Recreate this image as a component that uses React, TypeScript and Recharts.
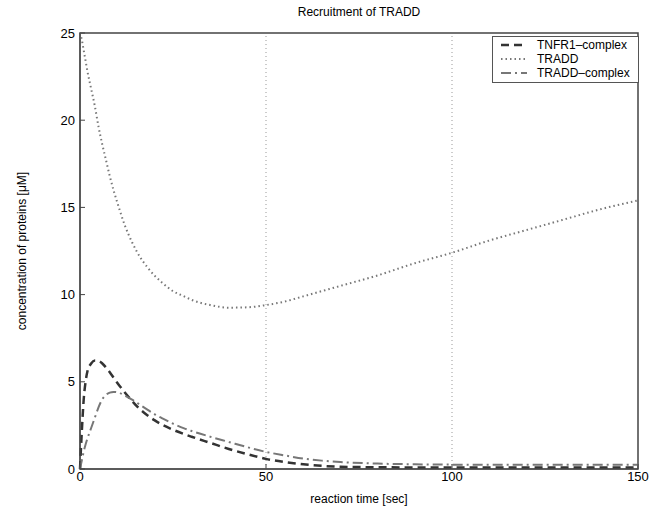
import React from "react";
import {
  LineChart,
  Line,
  XAxis,
  YAxis,
  ReferenceLine,
  ReferenceArea,
  Label,
} from "recharts";

// reaction time [sec]
const times = [
  0, 0.5, 1, 1.5, 2, 3, 4, 5, 6, 7, 8, 9, 10, 12, 14, 16, 18, 20, 22, 25, 28,
  30, 35, 40, 45, 50, 55, 60, 65, 70, 80, 90, 100, 110, 120, 130, 140, 150,
];

const tnfr1Complex = [
  0, 2.2, 4.0, 5.0, 5.6, 6.05, 6.22, 6.2, 6.05, 5.82, 5.55, 5.25, 4.95, 4.4,
  3.9, 3.45, 3.1, 2.8, 2.55, 2.25, 2.0, 1.85, 1.5, 1.15, 0.85, 0.58, 0.4, 0.27,
  0.18, 0.13, 0.1, 0.09, 0.09, 0.09, 0.09, 0.09, 0.09, 0.09,
];

const tradd = [
  25, 24.6, 24.0, 23.4, 22.8, 21.8, 20.8, 19.6, 18.6, 17.7, 16.8, 16.0, 15.3,
  14.0, 13.0, 12.2, 11.6, 11.1, 10.7, 10.2, 9.9, 9.7, 9.4, 9.25, 9.27, 9.4, 9.6,
  9.9, 10.2, 10.5, 11.1, 11.8, 12.4, 13.1, 13.7, 14.3, 14.9, 15.4,
];

const traddComplex = [
  0, 0.5, 1.0, 1.4, 1.75, 2.35, 2.95, 3.55, 4.0, 4.25, 4.38, 4.42, 4.4, 4.22,
  3.98, 3.7, 3.42, 3.15, 2.92, 2.6, 2.33, 2.18, 1.85, 1.55, 1.25, 0.98, 0.78,
  0.6, 0.48, 0.4, 0.31, 0.27, 0.25, 0.24, 0.24, 0.24, 0.24, 0.24,
];

const xTicks = [0, 50, 100, 150];
const yTicks = [0, 5, 10, 15, 20, 25];
const gridX = [50, 100];

const series = [
  { key: "tnfr1", name: "TNFR1\u2013complex", color: "#333", width: 2.5, dash: "8 5" },
  { key: "tradd", name: "TRADD", color: "#777", width: 2, dash: "1.5 3" },
  { key: "traddc", name: "TRADD\u2013complex", color: "#777", width: 2, dash: "10 4 2 4" },
];

const data = times.map((t, i) => ({
  t,
  tnfr1: tnfr1Complex[i],
  tradd: tradd[i],
  traddc: traddComplex[i],
}));

const font = "'Liberation Sans', Arial, sans-serif";

const LegendBox = () => (
  <div
    style={{
      position: "absolute",
      left: 492,
      top: 36,
      border: "1px solid #555",
      background: "#fff",
      padding: "1px 8px 2px 6px",
      fontFamily: font,
      fontSize: 12,
      color: "#000",
    }}
  >
    {series.map((s) => (
      <div key={s.key} style={{ display: "flex", alignItems: "center", height: 14 }}>
        <svg width={30} height={10} style={{ marginRight: 8 }}>
          <line
            x1={2}
            y1={5}
            x2={28}
            y2={5}
            stroke={s.color}
            strokeWidth={s.width}
            strokeDasharray={s.dash}
          />
        </svg>
        <span>{s.name}</span>
      </div>
    ))}
  </div>
);

export default function App() {
  return (
    <div style={{ position: "absolute", left: 0, top: 0, width: 660, height: 512, background: "#fff" }}>
      <div
        style={{
          position: "absolute",
          left: 80,
          width: 558,
          top: 5,
          textAlign: "center",
          fontFamily: font,
          fontSize: 12,
          color: "#000",
        }}
      >
        Recruitment of TRADD
      </div>
      <LineChart
        width={660}
        height={512}
        data={data}
        margin={{ top: 33, right: 22, bottom: 7, left: 14 }}
        style={{ fontFamily: font }}
      >
        <XAxis
          dataKey="t"
          type="number"
          domain={[0, 150]}
          ticks={xTicks}
          height={36}
          stroke="#444"
          tickSize={-5}
          tickMargin={8}
          tick={{ fill: "#000", fontSize: 13 }}
        >
          <Label
            value="reaction time [sec]"
            position="insideBottom"
            offset={2}
            style={{ fill: "#000", fontSize: 12 }}
          />
        </XAxis>
        <YAxis
          type="number"
          domain={[0, 25]}
          ticks={yTicks}
          width={66}
          stroke="#444"
          tickSize={-5}
          tickMargin={10}
          tick={{ fill: "#000", fontSize: 13 }}
        >
          <Label
            value={"concentration of proteins [\u03bcM]"}
            angle={-90}
            position="insideLeft"
            offset={8}
            style={{ fill: "#000", fontSize: 12, textAnchor: "middle" }}
          />
        </YAxis>
        {/* axes box */}
        <ReferenceArea
          x1={0}
          x2={150}
          y1={0}
          y2={25}
          fill="none"
          fillOpacity={0}
          stroke="#444"
          strokeWidth={1.5}
          strokeOpacity={1}
          ifOverflow="visible"
        />
        {gridX.map((x) => (
          <ReferenceLine key={x} x={x} stroke="#999" strokeDasharray="1 3" />
        ))}
        {series.map((s) => (
          <Line
            key={s.key}
            dataKey={s.key}
            name={s.name}
            type="monotone"
            stroke={s.color}
            strokeWidth={s.width}
            strokeDasharray={s.dash}
            dot={false}
            isAnimationActive={false}
          />
        ))}
      </LineChart>
      <LegendBox />
    </div>
  );
}
